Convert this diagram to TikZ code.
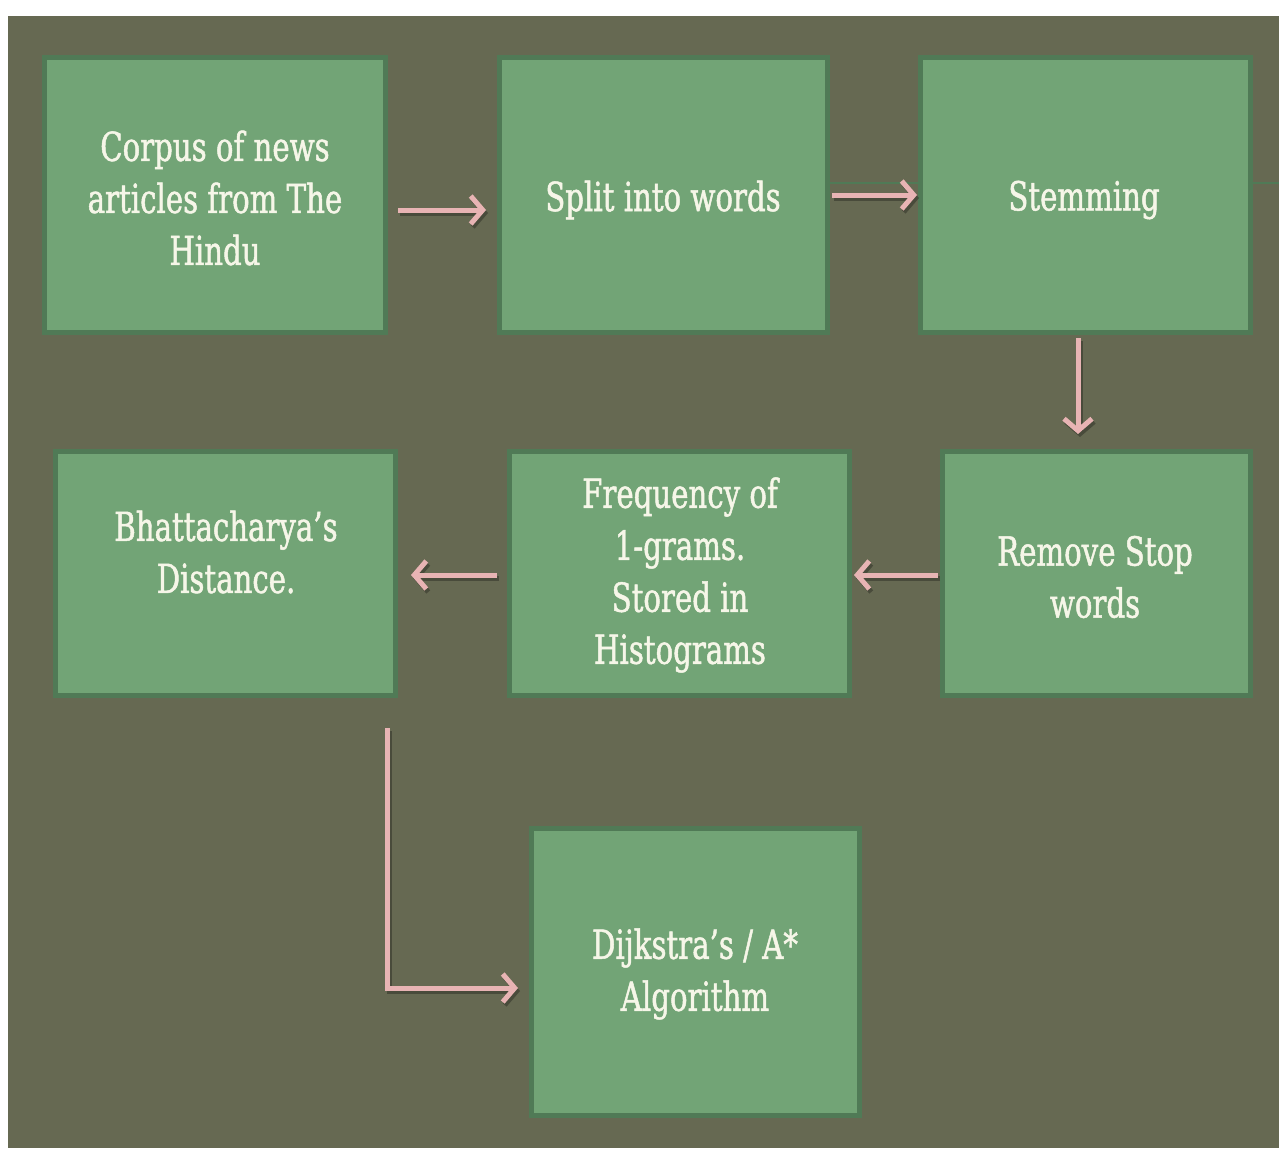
\documentclass[tikz,border=0pt]{standalone}
\usepackage{fontspec}
\setmainfont{DejaVu Serif}[FakeStretch=0.73,FakeBold=1.2]
\usetikzlibrary{arrows.meta}
\definecolor{bgcol}{RGB}{102,105,82}
\definecolor{boxfill}{RGB}{114,164,118}
\definecolor{boxline}{RGB}{80,122,86}
\definecolor{arrcol}{RGB}{232,180,180}
\definecolor{txtcol}{RGB}{246,246,232}
\tikzset{
  stepbox/.style={draw=boxline, line width=5pt, fill=boxfill, inner sep=0pt},
  txtlabel/.style={text=txtcol, align=center, inner sep=0pt, font=\fontsize{40}{52}\selectfont},
  flowtip/.style={-{Straight Barb[length=12pt,width=28pt,line width=5pt]}},
  flow/.style={draw=arrcol, line width=5pt, flowtip},
  flowshadow/.style={draw=black, opacity=.28, line width=5pt, flowtip,
    transform canvas={shift={(2pt,-3pt)}}},
  thinlink/.style={draw=boxline, line width=2.5pt}
}
\begin{document}
\begin{tikzpicture}[x=1pt,y=-1pt]
\useasboundingbox (0,0) rectangle (1279,1148);
\fill[white] (0,0) rectangle (1279,1148);
\fill[bgcol] (8,16) rectangle (1279,1148);
% boxes
\node[stepbox, minimum width=341pt, minimum height=275pt] (b1) at (215,195) {};
\node[stepbox, minimum width=328pt, minimum height=275pt] (b2) at (663.5,195) {};
\node[stepbox, minimum width=330pt, minimum height=275pt] (b3) at (1085.5,195) {};
\node[stepbox, minimum width=340pt, minimum height=244pt] (b4) at (225.5,573.5) {};
\node[stepbox, minimum width=340pt, minimum height=244pt] (b5) at (679.5,573.5) {};
\node[stepbox, minimum width=308pt, minimum height=244pt] (b6) at (1096.5,573.5) {};
\node[stepbox, minimum width=328pt, minimum height=287pt] (b7) at (695.5,972) {};
% texts
\node[txtlabel] (t1) at (215,198) {Corpus of news\\articles from The\\Hindu};
\node[txtlabel] (t2) at (663,200) {Split into words};
\node[txtlabel] (t3) at (1084,200) {Stemming};
\node[txtlabel] (t4) at (226,552) {Bhattacharya's\\Distance.};
\node[txtlabel] (t5) at (680,575) {Frequency of\\1-grams.\\Stored in\\Histograms};
\node[txtlabel] (t6) at (1095,577) {Remove Stop\\words};
\node[txtlabel] (t7) at (695,974) {Dijkstra's / A*\\Algorithm};
% thin dark links
\coordinate (e1) at (1279,183);
\draw[thinlink] (b2.east |- 0,183) -- (b3.west |- 0,183);
\draw[thinlink] (b3.east |- 0,183) -- (e1);
% arrows
\coordinate (a1s) at (398,210); \coordinate (a1e) at (486,210);
\coordinate (a2s) at (832,195); \coordinate (a2e) at (917,195);
\coordinate (a3s) at (1078,338); \coordinate (a3e) at (1078,434);
\coordinate (a4s) at (938,575); \coordinate (a4e) at (854,575);
\coordinate (a5s) at (497,575); \coordinate (a5e) at (411,575);
\coordinate (a6s) at (387,728); \coordinate (a6e) at (518,988);
\draw[flowshadow] (a1s) -- (a1e);
\draw[flowshadow] (a2s) -- (a2e);
\draw[flowshadow] (a3s) -- (a3e);
\draw[flowshadow] (a4s) -- (a4e);
\draw[flowshadow] (a5s) -- (a5e);
\draw[flowshadow] (a6s) |- (a6e);
\draw[flow] (a1s) -- (a1e);
\draw[flow] (a2s) -- (a2e);
\draw[flow] (a3s) -- (a3e);
\draw[flow] (a4s) -- (a4e);
\draw[flow] (a5s) -- (a5e);
\draw[flow] (a6s) |- (a6e);
\end{tikzpicture}
\end{document}
